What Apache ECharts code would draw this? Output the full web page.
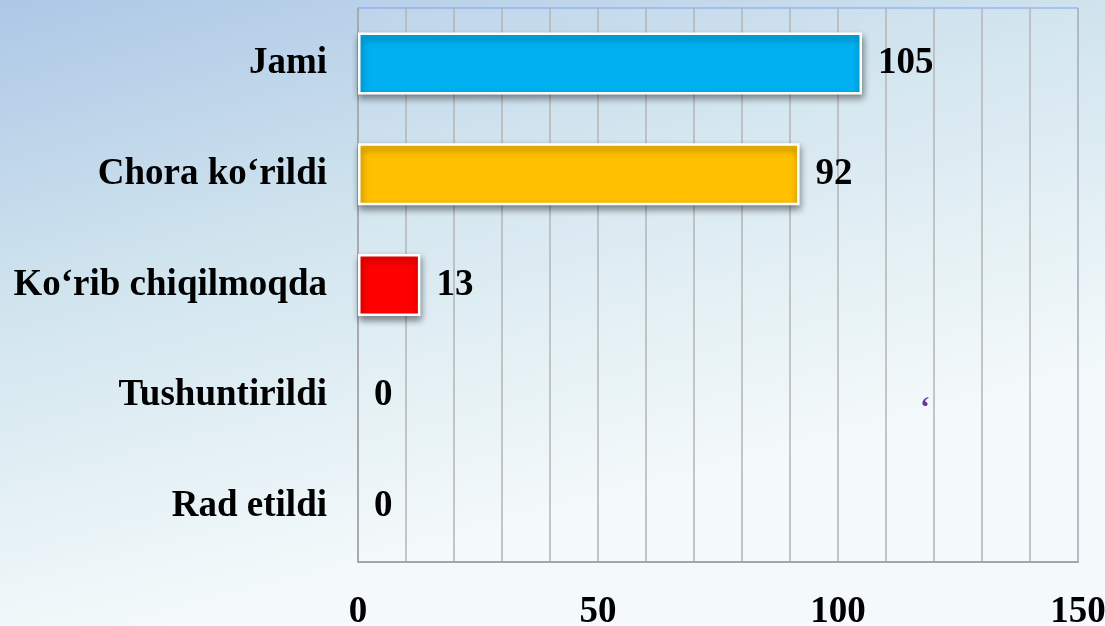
<!DOCTYPE html>
<html>
<head>
<meta charset="utf-8">
<script src="https://cdn.jsdelivr.net/npm/echarts@6/dist/echarts.min.js"></script>
<style>
  html, body { margin: 0; padding: 0; }
  #main { width: 1105px; height: 626px; }
</style>
</head>
<body>
<div id="main"></div>
<script>
// Toifalar (yuqoridan pastga)
const categories = ['Jami', 'Chora ko‘rildi', 'Ko‘rib chiqilmoqda', 'Tushuntirildi', 'Rad etildi']
// Qiymatlar
const values = [105, 92, 13, 0, 0]
// Ustun ranglari
const barColors = ['#00b0f0', '#ffc000', '#ff0000', '#ffffff', '#ffffff']

const labelFont = {
  fontFamily: 'Liberation Serif',
  fontWeight: 'bold',
  fontSize: 37,
  color: '#000'
}

// nol qiymatli ustunlar ko'rinmaydi
const barData = values.map((v, i) => ({
  value: v,
  itemStyle: v === 0
    ? { color: 'rgba(0,0,0,0)', borderWidth: 0, shadowBlur: 0, shadowOffsetY: 0, shadowOffsetX: 0, shadowColor: 'rgba(0,0,0,0)' }
    : { color: barColors[i] }
}))

const chart = echarts.init(document.getElementById('main'))

chart.setOption({
  backgroundColor: new echarts.graphic.LinearGradient(0, 0, 0.15, 1, [
    { offset: 0, color: '#adc7e6' },
    { offset: 0.45, color: '#d0e4ee' },
    { offset: 1, color: '#f4fafb' }
  ]),
  animation: false,
  grid: {
    left: 358,
    right: 27,
    top: 8,
    bottom: 64,
    outerBoundsMode: 'none',
    containLabel: false,
    show: true,
    borderColor: '#7e9ff5',
    borderWidth: 1,
    backgroundColor: 'rgba(255,255,255,0.08)'
  },
  xAxis: {
    type: 'value',
    min: 0,
    max: 150,
    interval: 10,
    axisLine: { show: true, lineStyle: { color: '#a6a6a6', width: 2 } },
    axisTick: { show: false },
    splitLine: { lineStyle: { color: '#b4b4b4', width: 1.5 } },
    axisLabel: {
      ...labelFont,
      margin: 32,
      hideOverlap: false,
      formatter: v => (v % 50 === 0 ? String(v) : '')
    }
  },
  yAxis: {
    type: 'category',
    data: categories,
    inverse: true,
    axisLine: { show: true, lineStyle: { color: '#a6a6a6', width: 1.5 } },
    axisTick: { show: false },
    axisLabel: { ...labelFont, margin: 31, padding: [6, 0, 0, 0] }
  },
  series: [{
    type: 'bar',
    data: barData,
    barCategoryGap: '44%',
    itemStyle: {
      borderColor: '#ffffff',
      borderWidth: 2.5,
      shadowColor: 'rgba(0,0,0,0.45)',
      shadowBlur: 7,
      shadowOffsetY: 4,
      shadowOffsetX: 1
    },
    label: {
      show: true,
      position: 'right',
      distance: 16,
      padding: [6, 0, 0, 0],
      ...labelFont
    }
  }],
  graphic: [{
    type: 'text',
    left: 920,
    top: 394,
    style: {
      text: '‘',
      fontFamily: 'Liberation Serif',
      fontSize: 30,
      fontWeight: 'bold',
      fill: '#7030a0'
    }
  }]
})
</script>
</body>
</html>
